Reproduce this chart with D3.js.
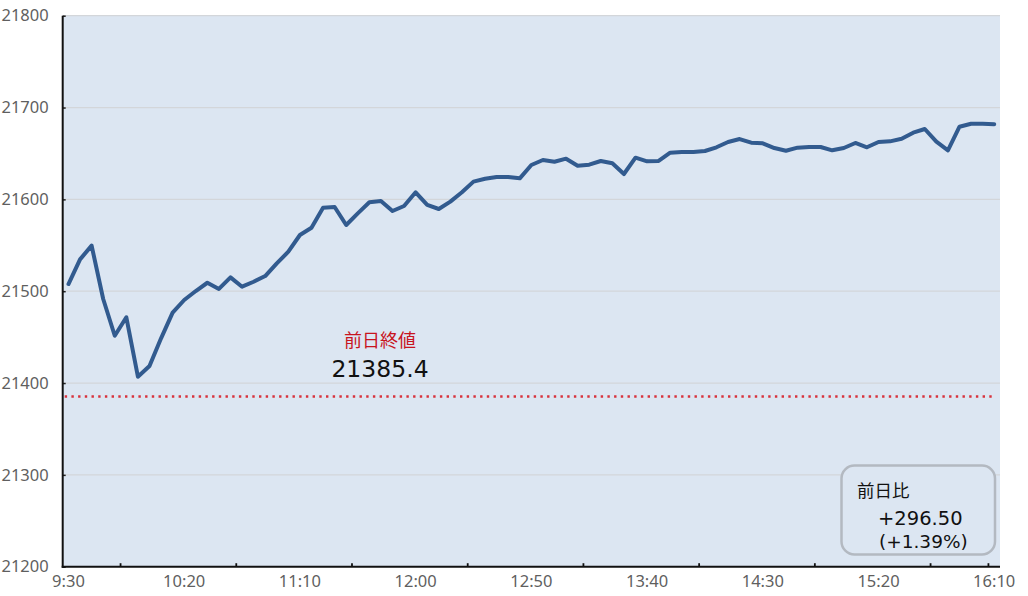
<!DOCTYPE html>
<html><head><meta charset="utf-8">
<script src="https://cdn.jsdelivr.net/npm/d3@7/dist/d3.min.js"></script>
<style>
html,body{margin:0;padding:0;background:#fff;}
svg{display:block;}
text{font-family:"Noto Sans","Noto Sans CJK JP",sans-serif;}
</style></head>
<body>
<svg id="chart" width="1028" height="596"></svg>
<script>
// ---- data ----
const tickLabels = ["9:30","10:20","11:10","12:00","12:50","13:40","14:30","15:20","16:10"];
const yTicks = [21200,21300,21400,21500,21600,21700,21800];
const values = [
 21507.8,21534.7,21549.6,21491.5,21451.5,21471.6,21406.9,21418.5,21448.7,21476.6,
 21490.4,21500.2,21509.2,21502.5,21515.1,21504.9,21510.3,21516.5,21530.3,21543.0,
 21561.2,21569.1,21590.9,21591.7,21572.1,21584.8,21596.8,21598.2,21587.3,21592.8,
 21607.7,21593.9,21589.5,21597.5,21607.7,21619.3,21622.5,21624.4,21624.4,21622.9,
 21637.4,21642.9,21641.0,21644.3,21636.7,21637.8,21641.8,21639.3,21627.6,21645.4,
 21641.4,21641.8,21650.8,21651.6,21651.6,21652.7,21656.7,21662.5,21665.7,21661.7,
 21661.0,21655.9,21653.0,21656.3,21657.0,21657.0,21653.4,21655.9,21661.4,21656.7,
 21662.5,21663.2,21666.0,21672.6,21676.6,21662.8,21653.4,21679.1,21682.4,21682.4,
 21681.9
];
const prevClose = 21385.4;
const prevCloseLabel = "前日終値";
const changeLabel = "前日比";
const changeValue = "+296.50";
const changePct = "(+1.39%)";
const tickBoundaryIdx = [5,15,25,35,45,55,65,75,80];

// categories: 5-minute steps from 9:30
const times = values.map((_, i) => {
  const m = 9*60 + 30 + i*5;
  return Math.floor(m/60) + ":" + String(m%60).padStart(2,"0");
});

// ---- layout ----
const L = 62.7, R = 1000, T = 15.7, B = 566.7;
const svg = d3.select("#chart");

const x = d3.scaleBand().domain(times).range([L, R]).paddingInner(0).paddingOuter(0);
const xc = t => x(t) + x.bandwidth()/2;
const y = d3.scaleLinear().domain([21200, 21800]).range([B, T]);

// plot background
svg.append("rect").attr("x", L).attr("y", T).attr("width", R-L).attr("height", B-T)
  .attr("fill", "#dce6f2");

// gridlines
svg.append("g").selectAll("line").data(yTicks.filter(v => v > 21200)).join("line")
  .attr("x1", L).attr("x2", R).attr("y1", d => y(d)).attr("y2", d => y(d))
  .attr("stroke", "#d3d6da").attr("stroke-width", 1.2);

// y axis
const yAxis = svg.append("g").attr("transform", `translate(${L},0)`)
  .call(d3.axisLeft(y).tickValues(yTicks).tickSize(-3).tickPadding(14).tickFormat(d3.format("d")));
yAxis.select(".domain").remove();
yAxis.selectAll(".tick line").attr("stroke", "#222").attr("stroke-width", 1.5);
yAxis.selectAll("text").attr("fill", "#5f5f5f").style("font-size", "16.5px");
svg.append("line").attr("x1", L).attr("x2", L).attr("y1", T).attr("y2", B+1)
  .attr("stroke", "#111").attr("stroke-width", 2);

// x axis ticks (between categories) and labels
svg.append("g").selectAll("line").data(tickBoundaryIdx).join("line")
  .attr("x1", d => x(times[d])).attr("x2", d => x(times[d]))
  .attr("y1", B).attr("y2", B-3.5)
  .attr("stroke", "#111").attr("stroke-width", 1.8);
svg.append("line").attr("x1", L-1).attr("x2", R).attr("y1", B).attr("y2", B)
  .attr("stroke", "#111").attr("stroke-width", 2);
svg.append("g").selectAll("text").data(tickLabels).join("text")
  .attr("x", d => xc(d)).attr("y", 587)
  .attr("text-anchor", "middle").attr("fill", "#5f5f5f").style("font-size", "16.5px")
  .text(d => d);

// previous close dotted line
svg.append("line").attr("x1", L+2).attr("x2", xc(times[times.length-1]))
  .attr("y1", y(prevClose)).attr("y2", y(prevClose))
  .attr("stroke", "#d8333d").attr("stroke-width", 2.6)
  .attr("stroke-dasharray", "2.4,4.3");

svg.append("text").attr("x", 380).attr("y", 347).attr("text-anchor", "middle")
  .attr("fill", "#c8141e").style("font-size", "18px")
  .style("font-family", "'Noto Sans CJK JP',sans-serif").text(prevCloseLabel);
svg.append("text").attr("x", 380).attr("y", 377).attr("text-anchor", "middle")
  .attr("fill", "#111").style("font-size", "23.5px").style("font-family", "'DejaVu Sans',sans-serif")
  .text(d3.format(".1f")(prevClose));

// price line
const line = d3.line().x((d, i) => xc(times[i])).y(d => y(d));
svg.append("path").datum(values).attr("d", line)
  .attr("fill", "none").attr("stroke", "#325b8f").attr("stroke-width", 4)
  .attr("stroke-linejoin", "round").attr("stroke-linecap", "round");

// change box
svg.append("rect").attr("x", 841.5).attr("y", 465.5).attr("width", 153.5).attr("height", 89)
  .attr("rx", 13).attr("ry", 13)
  .attr("fill", "#dce6f2").attr("stroke", "#b3b9c1").attr("stroke-width", 2.5);
svg.append("text").attr("x", 857).attr("y", 497).attr("fill", "#111")
  .style("font-size", "17.5px").style("font-family", "'Noto Sans CJK JP',sans-serif").text(changeLabel);
svg.append("text").attr("x", 878).attr("y", 525).attr("fill", "#111")
  .style("font-size", "19.5px").style("font-family", "'DejaVu Sans',sans-serif").text(changeValue);
svg.append("text").attr("x", 879).attr("y", 548).attr("fill", "#111")
  .style("font-size", "18.5px").style("font-family", "'DejaVu Sans',sans-serif").text(changePct);
</script>
</body></html>
